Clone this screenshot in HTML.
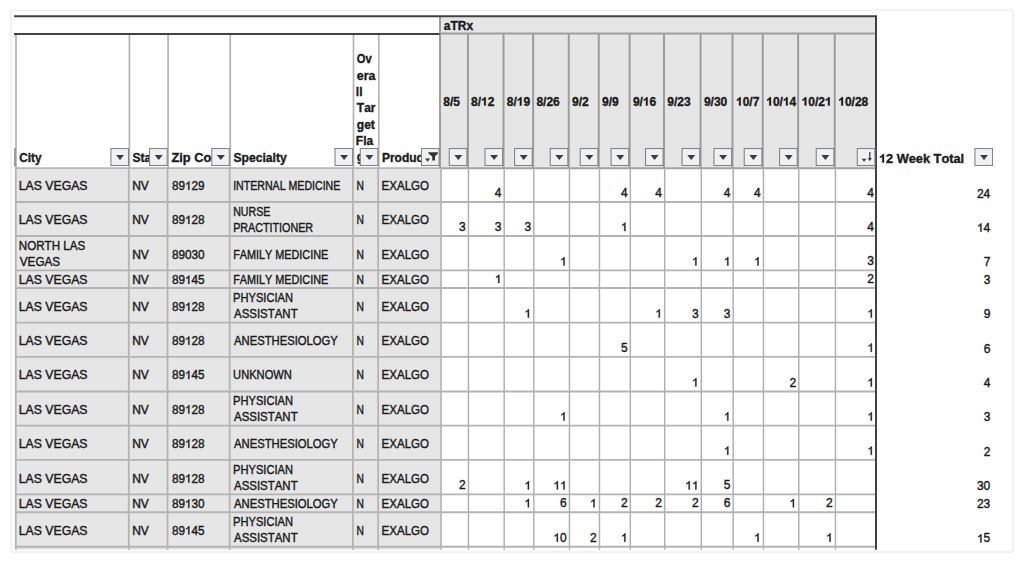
<!DOCTYPE html>
<html><head><meta charset="utf-8"><title>aTRx pivot</title>
<style>
html,body{margin:0;padding:0;background:#fff;width:1024px;height:563px;overflow:hidden}
svg{display:block}
svg text{font-family:"Liberation Sans",sans-serif;font-kerning:none}
</style></head>
<body>
<svg width="1024" height="563" viewBox="0 0 1024 563">
<rect x="0" y="0" width="1024" height="563" fill="#fff"/>
<rect x="11" y="10.3" width="1002" height="541.7" rx="2" fill="none" stroke="#f2f2f2" stroke-width="2"/>
<rect x="440" y="16.3" width="436" height="151.89999999999998" fill="#e6e6e6"/>
<rect x="16" y="168.2" width="424" height="381.59999999999997" fill="#e6e6e6"/>
<line x1="15.1" y1="202" x2="876" y2="202" stroke="#b4b4b4" stroke-width="1.85"/>
<line x1="15.1" y1="236" x2="876" y2="236" stroke="#b4b4b4" stroke-width="1.85"/>
<line x1="15.1" y1="270.4" x2="876" y2="270.4" stroke="#b4b4b4" stroke-width="1.85"/>
<line x1="15.1" y1="288" x2="876" y2="288" stroke="#b4b4b4" stroke-width="1.85"/>
<line x1="15.1" y1="322.6" x2="876" y2="322.6" stroke="#b4b4b4" stroke-width="1.85"/>
<line x1="15.1" y1="356.8" x2="876" y2="356.8" stroke="#b4b4b4" stroke-width="1.85"/>
<line x1="15.1" y1="391.5" x2="876" y2="391.5" stroke="#b4b4b4" stroke-width="1.85"/>
<line x1="15.1" y1="425.6" x2="876" y2="425.6" stroke="#b4b4b4" stroke-width="1.85"/>
<line x1="15.1" y1="459.8" x2="876" y2="459.8" stroke="#b4b4b4" stroke-width="1.85"/>
<line x1="15.1" y1="494.4" x2="876" y2="494.4" stroke="#b4b4b4" stroke-width="1.85"/>
<line x1="15.1" y1="512.2" x2="876" y2="512.2" stroke="#b4b4b4" stroke-width="1.85"/>
<line x1="15.1" y1="546.7" x2="876" y2="546.7" stroke="#b4b4b4" stroke-width="1.85"/>
<line x1="15.1" y1="168.2" x2="440" y2="168.2" stroke="#b6b6b6" stroke-width="1.8"/>
<line x1="440" y1="168.2" x2="876" y2="168.2" stroke="#a4a4a4" stroke-width="1.9"/>
<line x1="440" y1="33.5" x2="876" y2="33.5" stroke="#9d9d9d" stroke-width="2.0"/>
<line x1="16" y1="34.0" x2="16" y2="168.2" stroke="#b4b4b4" stroke-width="1.7"/>
<line x1="129.4" y1="34.0" x2="129.4" y2="168.2" stroke="#b4b4b4" stroke-width="1.7"/>
<line x1="168.1" y1="34.0" x2="168.1" y2="168.2" stroke="#b4b4b4" stroke-width="1.7"/>
<line x1="230.25" y1="34.0" x2="230.25" y2="168.2" stroke="#b4b4b4" stroke-width="1.7"/>
<line x1="353.5" y1="34.0" x2="353.5" y2="168.2" stroke="#b4b4b4" stroke-width="1.7"/>
<line x1="378.75" y1="34.0" x2="378.75" y2="168.2" stroke="#b4b4b4" stroke-width="1.7"/>
<line x1="440" y1="16.3" x2="440" y2="168.2" stroke="#9d9d9d" stroke-width="2.0"/>
<line x1="467.95" y1="34.0" x2="467.95" y2="168.2" stroke="#9d9d9d" stroke-width="2.0"/>
<line x1="503.5" y1="34.0" x2="503.5" y2="168.2" stroke="#9d9d9d" stroke-width="2.0"/>
<line x1="533.1" y1="34.0" x2="533.1" y2="168.2" stroke="#9d9d9d" stroke-width="2.0"/>
<line x1="568.75" y1="34.0" x2="568.75" y2="168.2" stroke="#9d9d9d" stroke-width="2.0"/>
<line x1="598.75" y1="34.0" x2="598.75" y2="168.2" stroke="#9d9d9d" stroke-width="2.0"/>
<line x1="629.6" y1="34.0" x2="629.6" y2="168.2" stroke="#9d9d9d" stroke-width="2.0"/>
<line x1="664" y1="34.0" x2="664" y2="168.2" stroke="#9d9d9d" stroke-width="2.0"/>
<line x1="700.6" y1="34.0" x2="700.6" y2="168.2" stroke="#9d9d9d" stroke-width="2.0"/>
<line x1="732.5" y1="34.0" x2="732.5" y2="168.2" stroke="#9d9d9d" stroke-width="2.0"/>
<line x1="762.75" y1="34.0" x2="762.75" y2="168.2" stroke="#9d9d9d" stroke-width="2.0"/>
<line x1="798.1" y1="34.0" x2="798.1" y2="168.2" stroke="#9d9d9d" stroke-width="2.0"/>
<line x1="834.75" y1="34.0" x2="834.75" y2="168.2" stroke="#9d9d9d" stroke-width="2.0"/>
<line x1="15.8" y1="168.2" x2="15.8" y2="549.8" stroke="#b4b4b4" stroke-width="1.8"/>
<line x1="128.8" y1="168.2" x2="128.8" y2="549.8" stroke="#b4b4b4" stroke-width="1.8"/>
<line x1="167.5" y1="168.2" x2="167.5" y2="549.8" stroke="#b4b4b4" stroke-width="1.8"/>
<line x1="229.65" y1="168.2" x2="229.65" y2="549.8" stroke="#b4b4b4" stroke-width="1.8"/>
<line x1="352.9" y1="168.2" x2="352.9" y2="549.8" stroke="#b4b4b4" stroke-width="1.8"/>
<line x1="378.15" y1="168.2" x2="378.15" y2="549.8" stroke="#b4b4b4" stroke-width="1.8"/>
<line x1="441.0" y1="168.2" x2="441.0" y2="549.8" stroke="#b4b4b4" stroke-width="1.7"/>
<line x1="468.45" y1="168.2" x2="468.45" y2="549.8" stroke="#b0b0b0" stroke-width="1.45"/>
<line x1="504.2" y1="168.2" x2="504.2" y2="549.8" stroke="#b0b0b0" stroke-width="1.45"/>
<line x1="533.8000000000001" y1="168.2" x2="533.8000000000001" y2="549.8" stroke="#b0b0b0" stroke-width="1.45"/>
<line x1="569.45" y1="168.2" x2="569.45" y2="549.8" stroke="#b0b0b0" stroke-width="1.45"/>
<line x1="599.45" y1="168.2" x2="599.45" y2="549.8" stroke="#b0b0b0" stroke-width="1.45"/>
<line x1="630.3000000000001" y1="168.2" x2="630.3000000000001" y2="549.8" stroke="#b0b0b0" stroke-width="1.45"/>
<line x1="664.7" y1="168.2" x2="664.7" y2="549.8" stroke="#b0b0b0" stroke-width="1.45"/>
<line x1="701.3000000000001" y1="168.2" x2="701.3000000000001" y2="549.8" stroke="#b0b0b0" stroke-width="1.45"/>
<line x1="733.2" y1="168.2" x2="733.2" y2="549.8" stroke="#b0b0b0" stroke-width="1.45"/>
<line x1="763.45" y1="168.2" x2="763.45" y2="549.8" stroke="#b0b0b0" stroke-width="1.45"/>
<line x1="798.8000000000001" y1="168.2" x2="798.8000000000001" y2="549.8" stroke="#b0b0b0" stroke-width="1.45"/>
<line x1="835.45" y1="168.2" x2="835.45" y2="549.8" stroke="#b0b0b0" stroke-width="1.45"/>
<line x1="14.9" y1="148" x2="14.9" y2="166.5" stroke="#6a6a6a" stroke-width="1.1"/>
<line x1="14" y1="16.3" x2="877" y2="16.3" stroke="#424242" stroke-width="2"/>
<line x1="14" y1="34.0" x2="439.5" y2="34.0" stroke="#424242" stroke-width="2.2"/>
<line x1="876" y1="16.3" x2="876" y2="549.8" stroke="#424242" stroke-width="2"/>
<text x="19.30" y="161.80" font-weight="bold" font-size="12" fill="#1b1b1b" stroke="#1b1b1b" stroke-width="0.35" textLength="22.30" lengthAdjust="spacingAndGlyphs">City</text>
<text x="132.60" y="161.80" font-weight="bold" font-size="12" fill="#1b1b1b" stroke="#1b1b1b" stroke-width="0.35">State</text>
<text x="171.40" y="161.80" font-weight="bold" font-size="12" fill="#1b1b1b" stroke="#1b1b1b" stroke-width="0.35" textLength="54.77" lengthAdjust="spacingAndGlyphs">Zip Code</text>
<text x="233.44" y="161.80" font-weight="bold" font-size="12" fill="#1b1b1b" stroke="#1b1b1b" stroke-width="0.35" textLength="53.33" lengthAdjust="spacingAndGlyphs">Specialty</text>
<text x="381.95" y="161.80" font-weight="bold" font-size="12" fill="#1b1b1b" stroke="#1b1b1b" stroke-width="0.35">Product</text>
<text x="356.80" y="63.20" font-weight="bold" font-size="12" fill="#1b1b1b" stroke="#1b1b1b" stroke-width="0.35" textLength="14.93" lengthAdjust="spacingAndGlyphs">Ov</text>
<text x="356.80" y="79.55" font-weight="bold" font-size="12" fill="#1b1b1b" stroke="#1b1b1b" stroke-width="0.35" textLength="18.65" lengthAdjust="spacingAndGlyphs">era</text>
<text x="355.80" y="95.90" font-weight="bold" font-size="12" fill="#1b1b1b" stroke="#1b1b1b" stroke-width="0.35">ll</text>
<text x="356.80" y="112.25" font-weight="bold" font-size="12" fill="#1b1b1b" stroke="#1b1b1b" stroke-width="0.35">Tar</text>
<text x="356.80" y="128.60" font-weight="bold" font-size="12" fill="#1b1b1b" stroke="#1b1b1b" stroke-width="0.35">get</text>
<text x="355.80" y="144.95" font-weight="bold" font-size="12" fill="#1b1b1b" stroke="#1b1b1b" stroke-width="0.35">Fla</text>
<text x="356.80" y="161.30" font-weight="bold" font-size="12" fill="#1b1b1b" stroke="#1b1b1b" stroke-width="0.35">g</text>
<text x="443.80" y="29.50" font-weight="bold" font-size="12" fill="#1b1b1b" stroke="#1b1b1b" stroke-width="0.35">aTRx</text>
<text x="443.30" y="105.50" font-weight="bold" font-size="12" fill="#1b1b1b" stroke="#1b1b1b" stroke-width="0.35">8/5</text>
<text x="471.05" y="105.50" font-weight="bold" font-size="12" fill="#1b1b1b" stroke="#1b1b1b" stroke-width="0.35">8/ 2</text>
<path d="M804 0H523V1014Q369 876 160 810V1054Q270 1088 399 1185Q528 1282 576 1409H804Z" transform="translate(481.06,105.50) scale(0.005859,-0.005859)" fill="#1b1b1b" stroke="#1b1b1b" stroke-width="0.35" vector-effect="non-scaling-stroke"/>
<text x="506.80" y="105.50" font-weight="bold" font-size="12" fill="#1b1b1b" stroke="#1b1b1b" stroke-width="0.35">8/ 9</text>
<path d="M804 0H523V1014Q369 876 160 810V1054Q270 1088 399 1185Q528 1282 576 1409H804Z" transform="translate(516.81,105.50) scale(0.005859,-0.005859)" fill="#1b1b1b" stroke="#1b1b1b" stroke-width="0.35" vector-effect="non-scaling-stroke"/>
<text x="536.40" y="105.50" font-weight="bold" font-size="12" fill="#1b1b1b" stroke="#1b1b1b" stroke-width="0.35">8/26</text>
<text x="572.05" y="105.50" font-weight="bold" font-size="12" fill="#1b1b1b" stroke="#1b1b1b" stroke-width="0.35">9/2</text>
<text x="602.05" y="105.50" font-weight="bold" font-size="12" fill="#1b1b1b" stroke="#1b1b1b" stroke-width="0.35">9/9</text>
<text x="632.90" y="105.50" font-weight="bold" font-size="12" fill="#1b1b1b" stroke="#1b1b1b" stroke-width="0.35">9/ 6</text>
<path d="M804 0H523V1014Q369 876 160 810V1054Q270 1088 399 1185Q528 1282 576 1409H804Z" transform="translate(642.91,105.50) scale(0.005859,-0.005859)" fill="#1b1b1b" stroke="#1b1b1b" stroke-width="0.35" vector-effect="non-scaling-stroke"/>
<text x="667.30" y="105.50" font-weight="bold" font-size="12" fill="#1b1b1b" stroke="#1b1b1b" stroke-width="0.35">9/23</text>
<text x="703.90" y="105.50" font-weight="bold" font-size="12" fill="#1b1b1b" stroke="#1b1b1b" stroke-width="0.35">9/30</text>
<text x="736.00" y="105.50" font-weight="bold" font-size="12" fill="#1b1b1b" stroke="#1b1b1b" stroke-width="0.35"> 0/7</text>
<path d="M804 0H523V1014Q369 876 160 810V1054Q270 1088 399 1185Q528 1282 576 1409H804Z" transform="translate(736.00,105.50) scale(0.005859,-0.005859)" fill="#1b1b1b" stroke="#1b1b1b" stroke-width="0.35" vector-effect="non-scaling-stroke"/>
<text x="766.25" y="105.50" font-weight="bold" font-size="12" fill="#1b1b1b" stroke="#1b1b1b" stroke-width="0.35"> 0/ 4</text>
<path d="M804 0H523V1014Q369 876 160 810V1054Q270 1088 399 1185Q528 1282 576 1409H804Z" transform="translate(766.25,105.50) scale(0.005859,-0.005859)" fill="#1b1b1b" stroke="#1b1b1b" stroke-width="0.35" vector-effect="non-scaling-stroke"/>
<path d="M804 0H523V1014Q369 876 160 810V1054Q270 1088 399 1185Q528 1282 576 1409H804Z" transform="translate(782.93,105.50) scale(0.005859,-0.005859)" fill="#1b1b1b" stroke="#1b1b1b" stroke-width="0.35" vector-effect="non-scaling-stroke"/>
<text x="801.60" y="105.50" font-weight="bold" font-size="12" fill="#1b1b1b" stroke="#1b1b1b" stroke-width="0.35"> 0/2 </text>
<path d="M804 0H523V1014Q369 876 160 810V1054Q270 1088 399 1185Q528 1282 576 1409H804Z" transform="translate(801.60,105.50) scale(0.005859,-0.005859)" fill="#1b1b1b" stroke="#1b1b1b" stroke-width="0.35" vector-effect="non-scaling-stroke"/>
<path d="M804 0H523V1014Q369 876 160 810V1054Q270 1088 399 1185Q528 1282 576 1409H804Z" transform="translate(824.96,105.50) scale(0.005859,-0.005859)" fill="#1b1b1b" stroke="#1b1b1b" stroke-width="0.35" vector-effect="non-scaling-stroke"/>
<text x="838.25" y="105.50" font-weight="bold" font-size="12" fill="#1b1b1b" stroke="#1b1b1b" stroke-width="0.35"> 0/28</text>
<path d="M804 0H523V1014Q369 876 160 810V1054Q270 1088 399 1185Q528 1282 576 1409H804Z" transform="translate(838.25,105.50) scale(0.005859,-0.005859)" fill="#1b1b1b" stroke="#1b1b1b" stroke-width="0.35" vector-effect="non-scaling-stroke"/>
<text x="878.92" y="162.60" font-weight="bold" font-size="12" fill="#1b1b1b" stroke="#1b1b1b" stroke-width="0.35" textLength="85.19" lengthAdjust="spacingAndGlyphs"> 2 Week Total</text>
<path d="M804 0H523V1014Q369 876 160 810V1054Q270 1088 399 1185Q528 1282 576 1409H804Z" transform="translate(878.92,162.60) scale(0.006325,-0.005859)" fill="#1b1b1b" stroke="#1b1b1b" stroke-width="0.35" vector-effect="non-scaling-stroke"/>
<text x="18.78" y="189.80" font-size="12" fill="#1b1b1b" stroke="#1b1b1b" stroke-width="0.4" textLength="68.78" lengthAdjust="spacingAndGlyphs">LAS VEGAS</text>
<text x="132.20" y="189.80" font-size="12" fill="#1b1b1b" stroke="#1b1b1b" stroke-width="0.4" textLength="16.65" lengthAdjust="spacingAndGlyphs">NV</text>
<text x="171.90" y="189.80" font-size="12" fill="#1b1b1b" stroke="#1b1b1b" stroke-width="0.4" textLength="32.65" lengthAdjust="spacingAndGlyphs">89 29</text>
<path d="M763 0H583V1098Q518 1038 412 979Q306 920 222 890V1057Q373 1125 486 1221Q599 1318 646 1409H763Z" transform="translate(184.96,189.80) scale(0.005732,-0.005859)" fill="#1b1b1b" stroke="#1b1b1b" stroke-width="0.4" vector-effect="non-scaling-stroke"/>
<text x="233.16" y="189.80" font-size="12" fill="#1b1b1b" stroke="#1b1b1b" stroke-width="0.4" textLength="107.18" lengthAdjust="spacingAndGlyphs">INTERNAL MEDICINE</text>
<text x="356.45" y="189.80" font-size="12" fill="#1b1b1b" stroke="#1b1b1b" stroke-width="0.4" textLength="7.41" lengthAdjust="spacingAndGlyphs">N</text>
<text x="381.59" y="189.80" font-size="12" fill="#1b1b1b" stroke="#1b1b1b" stroke-width="0.4" textLength="47.38" lengthAdjust="spacingAndGlyphs">EXALGO</text>
<text x="494.83" y="197.00" font-size="12" fill="#1b1b1b" stroke="#1b1b1b" stroke-width="0.4">4</text>
<text x="620.93" y="197.00" font-size="12" fill="#1b1b1b" stroke="#1b1b1b" stroke-width="0.4">4</text>
<text x="655.33" y="197.00" font-size="12" fill="#1b1b1b" stroke="#1b1b1b" stroke-width="0.4">4</text>
<text x="723.83" y="197.00" font-size="12" fill="#1b1b1b" stroke="#1b1b1b" stroke-width="0.4">4</text>
<text x="754.08" y="197.00" font-size="12" fill="#1b1b1b" stroke="#1b1b1b" stroke-width="0.4">4</text>
<text x="867.33" y="197.00" font-size="12" fill="#1b1b1b" stroke="#1b1b1b" stroke-width="0.4">4</text>
<text x="976.95" y="197.70" font-size="12" fill="#1b1b1b" stroke="#1b1b1b" stroke-width="0.4">24</text>
<text x="18.78" y="224.00" font-size="12" fill="#1b1b1b" stroke="#1b1b1b" stroke-width="0.4" textLength="68.78" lengthAdjust="spacingAndGlyphs">LAS VEGAS</text>
<text x="132.20" y="224.00" font-size="12" fill="#1b1b1b" stroke="#1b1b1b" stroke-width="0.4" textLength="16.65" lengthAdjust="spacingAndGlyphs">NV</text>
<text x="171.90" y="224.00" font-size="12" fill="#1b1b1b" stroke="#1b1b1b" stroke-width="0.4" textLength="32.65" lengthAdjust="spacingAndGlyphs">89 28</text>
<path d="M763 0H583V1098Q518 1038 412 979Q306 920 222 890V1057Q373 1125 486 1221Q599 1318 646 1409H763Z" transform="translate(184.96,224.00) scale(0.005732,-0.005859)" fill="#1b1b1b" stroke="#1b1b1b" stroke-width="0.4" vector-effect="non-scaling-stroke"/>
<text x="233.17" y="215.50" font-size="12" fill="#1b1b1b" stroke="#1b1b1b" stroke-width="0.4" textLength="37.18" lengthAdjust="spacingAndGlyphs">NURSE</text>
<text x="233.15" y="231.80" font-size="12" fill="#1b1b1b" stroke="#1b1b1b" stroke-width="0.4" textLength="79.98" lengthAdjust="spacingAndGlyphs">PRACTITIONER</text>
<text x="356.45" y="224.00" font-size="12" fill="#1b1b1b" stroke="#1b1b1b" stroke-width="0.4" textLength="7.41" lengthAdjust="spacingAndGlyphs">N</text>
<text x="381.59" y="224.00" font-size="12" fill="#1b1b1b" stroke="#1b1b1b" stroke-width="0.4" textLength="47.38" lengthAdjust="spacingAndGlyphs">EXALGO</text>
<text x="459.08" y="231.00" font-size="12" fill="#1b1b1b" stroke="#1b1b1b" stroke-width="0.4">3</text>
<text x="494.83" y="231.00" font-size="12" fill="#1b1b1b" stroke="#1b1b1b" stroke-width="0.4">3</text>
<text x="524.43" y="231.00" font-size="12" fill="#1b1b1b" stroke="#1b1b1b" stroke-width="0.4">3</text>
<path d="M763 0H583V1098Q518 1038 412 979Q306 920 222 890V1057Q373 1125 486 1221Q599 1318 646 1409H763Z" transform="translate(620.93,231.00) scale(0.005859,-0.005859)" fill="#1b1b1b" stroke="#1b1b1b" stroke-width="0.4" vector-effect="non-scaling-stroke"/>
<text x="867.33" y="231.00" font-size="12" fill="#1b1b1b" stroke="#1b1b1b" stroke-width="0.4">4</text>
<text x="976.95" y="231.70" font-size="12" fill="#1b1b1b" stroke="#1b1b1b" stroke-width="0.4"> 4</text>
<path d="M763 0H583V1098Q518 1038 412 979Q306 920 222 890V1057Q373 1125 486 1221Q599 1318 646 1409H763Z" transform="translate(976.95,231.70) scale(0.005859,-0.005859)" fill="#1b1b1b" stroke="#1b1b1b" stroke-width="0.4" vector-effect="non-scaling-stroke"/>
<text x="18.83" y="249.70" font-size="12" fill="#1b1b1b" stroke="#1b1b1b" stroke-width="0.4" textLength="66.40" lengthAdjust="spacingAndGlyphs">NORTH LAS</text>
<text x="19.80" y="266.00" font-size="12" fill="#1b1b1b" stroke="#1b1b1b" stroke-width="0.4" textLength="40.33" lengthAdjust="spacingAndGlyphs">VEGAS</text>
<text x="132.20" y="258.70" font-size="12" fill="#1b1b1b" stroke="#1b1b1b" stroke-width="0.4" textLength="16.65" lengthAdjust="spacingAndGlyphs">NV</text>
<text x="171.90" y="258.70" font-size="12" fill="#1b1b1b" stroke="#1b1b1b" stroke-width="0.4" textLength="32.65" lengthAdjust="spacingAndGlyphs">89030</text>
<text x="233.13" y="258.70" font-size="12" fill="#1b1b1b" stroke="#1b1b1b" stroke-width="0.4" textLength="95.13" lengthAdjust="spacingAndGlyphs">FAMILY MEDICINE</text>
<text x="356.45" y="258.70" font-size="12" fill="#1b1b1b" stroke="#1b1b1b" stroke-width="0.4" textLength="7.41" lengthAdjust="spacingAndGlyphs">N</text>
<text x="381.59" y="258.70" font-size="12" fill="#1b1b1b" stroke="#1b1b1b" stroke-width="0.4" textLength="47.38" lengthAdjust="spacingAndGlyphs">EXALGO</text>
<path d="M763 0H583V1098Q518 1038 412 979Q306 920 222 890V1057Q373 1125 486 1221Q599 1318 646 1409H763Z" transform="translate(560.08,265.40) scale(0.005859,-0.005859)" fill="#1b1b1b" stroke="#1b1b1b" stroke-width="0.4" vector-effect="non-scaling-stroke"/>
<path d="M763 0H583V1098Q518 1038 412 979Q306 920 222 890V1057Q373 1125 486 1221Q599 1318 646 1409H763Z" transform="translate(691.93,265.40) scale(0.005859,-0.005859)" fill="#1b1b1b" stroke="#1b1b1b" stroke-width="0.4" vector-effect="non-scaling-stroke"/>
<path d="M763 0H583V1098Q518 1038 412 979Q306 920 222 890V1057Q373 1125 486 1221Q599 1318 646 1409H763Z" transform="translate(723.83,265.40) scale(0.005859,-0.005859)" fill="#1b1b1b" stroke="#1b1b1b" stroke-width="0.4" vector-effect="non-scaling-stroke"/>
<path d="M763 0H583V1098Q518 1038 412 979Q306 920 222 890V1057Q373 1125 486 1221Q599 1318 646 1409H763Z" transform="translate(754.08,265.40) scale(0.005859,-0.005859)" fill="#1b1b1b" stroke="#1b1b1b" stroke-width="0.4" vector-effect="non-scaling-stroke"/>
<text x="867.33" y="265.40" font-size="12" fill="#1b1b1b" stroke="#1b1b1b" stroke-width="0.4">3</text>
<text x="983.63" y="266.10" font-size="12" fill="#1b1b1b" stroke="#1b1b1b" stroke-width="0.4">7</text>
<text x="18.78" y="283.90" font-size="12" fill="#1b1b1b" stroke="#1b1b1b" stroke-width="0.4" textLength="68.78" lengthAdjust="spacingAndGlyphs">LAS VEGAS</text>
<text x="132.20" y="283.90" font-size="12" fill="#1b1b1b" stroke="#1b1b1b" stroke-width="0.4" textLength="16.65" lengthAdjust="spacingAndGlyphs">NV</text>
<text x="171.90" y="283.90" font-size="12" fill="#1b1b1b" stroke="#1b1b1b" stroke-width="0.4" textLength="32.65" lengthAdjust="spacingAndGlyphs">89 45</text>
<path d="M763 0H583V1098Q518 1038 412 979Q306 920 222 890V1057Q373 1125 486 1221Q599 1318 646 1409H763Z" transform="translate(184.96,283.90) scale(0.005732,-0.005859)" fill="#1b1b1b" stroke="#1b1b1b" stroke-width="0.4" vector-effect="non-scaling-stroke"/>
<text x="233.13" y="283.90" font-size="12" fill="#1b1b1b" stroke="#1b1b1b" stroke-width="0.4" textLength="95.13" lengthAdjust="spacingAndGlyphs">FAMILY MEDICINE</text>
<text x="356.45" y="283.90" font-size="12" fill="#1b1b1b" stroke="#1b1b1b" stroke-width="0.4" textLength="7.41" lengthAdjust="spacingAndGlyphs">N</text>
<text x="381.59" y="283.90" font-size="12" fill="#1b1b1b" stroke="#1b1b1b" stroke-width="0.4" textLength="47.38" lengthAdjust="spacingAndGlyphs">EXALGO</text>
<path d="M763 0H583V1098Q518 1038 412 979Q306 920 222 890V1057Q373 1125 486 1221Q599 1318 646 1409H763Z" transform="translate(494.83,283.00) scale(0.005859,-0.005859)" fill="#1b1b1b" stroke="#1b1b1b" stroke-width="0.4" vector-effect="non-scaling-stroke"/>
<text x="867.33" y="283.00" font-size="12" fill="#1b1b1b" stroke="#1b1b1b" stroke-width="0.4">2</text>
<text x="983.63" y="283.70" font-size="12" fill="#1b1b1b" stroke="#1b1b1b" stroke-width="0.4">3</text>
<text x="18.78" y="310.90" font-size="12" fill="#1b1b1b" stroke="#1b1b1b" stroke-width="0.4" textLength="68.78" lengthAdjust="spacingAndGlyphs">LAS VEGAS</text>
<text x="132.20" y="310.90" font-size="12" fill="#1b1b1b" stroke="#1b1b1b" stroke-width="0.4" textLength="16.65" lengthAdjust="spacingAndGlyphs">NV</text>
<text x="171.90" y="310.90" font-size="12" fill="#1b1b1b" stroke="#1b1b1b" stroke-width="0.4" textLength="32.65" lengthAdjust="spacingAndGlyphs">89 28</text>
<path d="M763 0H583V1098Q518 1038 412 979Q306 920 222 890V1057Q373 1125 486 1221Q599 1318 646 1409H763Z" transform="translate(184.96,310.90) scale(0.005732,-0.005859)" fill="#1b1b1b" stroke="#1b1b1b" stroke-width="0.4" vector-effect="non-scaling-stroke"/>
<text x="233.12" y="301.80" font-size="12" fill="#1b1b1b" stroke="#1b1b1b" stroke-width="0.4" textLength="59.84" lengthAdjust="spacingAndGlyphs">PHYSICIAN</text>
<text x="234.05" y="318.10" font-size="12" fill="#1b1b1b" stroke="#1b1b1b" stroke-width="0.4" textLength="63.58" lengthAdjust="spacingAndGlyphs">ASSISTANT</text>
<text x="356.45" y="310.90" font-size="12" fill="#1b1b1b" stroke="#1b1b1b" stroke-width="0.4" textLength="7.41" lengthAdjust="spacingAndGlyphs">N</text>
<text x="381.59" y="310.90" font-size="12" fill="#1b1b1b" stroke="#1b1b1b" stroke-width="0.4" textLength="47.38" lengthAdjust="spacingAndGlyphs">EXALGO</text>
<path d="M763 0H583V1098Q518 1038 412 979Q306 920 222 890V1057Q373 1125 486 1221Q599 1318 646 1409H763Z" transform="translate(524.43,317.60) scale(0.005859,-0.005859)" fill="#1b1b1b" stroke="#1b1b1b" stroke-width="0.4" vector-effect="non-scaling-stroke"/>
<path d="M763 0H583V1098Q518 1038 412 979Q306 920 222 890V1057Q373 1125 486 1221Q599 1318 646 1409H763Z" transform="translate(655.33,317.60) scale(0.005859,-0.005859)" fill="#1b1b1b" stroke="#1b1b1b" stroke-width="0.4" vector-effect="non-scaling-stroke"/>
<text x="691.93" y="317.60" font-size="12" fill="#1b1b1b" stroke="#1b1b1b" stroke-width="0.4">3</text>
<text x="723.83" y="317.60" font-size="12" fill="#1b1b1b" stroke="#1b1b1b" stroke-width="0.4">3</text>
<path d="M763 0H583V1098Q518 1038 412 979Q306 920 222 890V1057Q373 1125 486 1221Q599 1318 646 1409H763Z" transform="translate(867.33,317.60) scale(0.005859,-0.005859)" fill="#1b1b1b" stroke="#1b1b1b" stroke-width="0.4" vector-effect="non-scaling-stroke"/>
<text x="983.63" y="318.30" font-size="12" fill="#1b1b1b" stroke="#1b1b1b" stroke-width="0.4">9</text>
<text x="18.78" y="344.80" font-size="12" fill="#1b1b1b" stroke="#1b1b1b" stroke-width="0.4" textLength="68.78" lengthAdjust="spacingAndGlyphs">LAS VEGAS</text>
<text x="132.20" y="344.80" font-size="12" fill="#1b1b1b" stroke="#1b1b1b" stroke-width="0.4" textLength="16.65" lengthAdjust="spacingAndGlyphs">NV</text>
<text x="171.90" y="344.80" font-size="12" fill="#1b1b1b" stroke="#1b1b1b" stroke-width="0.4" textLength="32.65" lengthAdjust="spacingAndGlyphs">89 28</text>
<path d="M763 0H583V1098Q518 1038 412 979Q306 920 222 890V1057Q373 1125 486 1221Q599 1318 646 1409H763Z" transform="translate(184.96,344.80) scale(0.005732,-0.005859)" fill="#1b1b1b" stroke="#1b1b1b" stroke-width="0.4" vector-effect="non-scaling-stroke"/>
<text x="234.05" y="344.80" font-size="12" fill="#1b1b1b" stroke="#1b1b1b" stroke-width="0.4" textLength="103.74" lengthAdjust="spacingAndGlyphs">ANESTHESIOLOGY</text>
<text x="356.45" y="344.80" font-size="12" fill="#1b1b1b" stroke="#1b1b1b" stroke-width="0.4" textLength="7.41" lengthAdjust="spacingAndGlyphs">N</text>
<text x="381.59" y="344.80" font-size="12" fill="#1b1b1b" stroke="#1b1b1b" stroke-width="0.4" textLength="47.38" lengthAdjust="spacingAndGlyphs">EXALGO</text>
<text x="620.93" y="351.80" font-size="12" fill="#1b1b1b" stroke="#1b1b1b" stroke-width="0.4">5</text>
<path d="M763 0H583V1098Q518 1038 412 979Q306 920 222 890V1057Q373 1125 486 1221Q599 1318 646 1409H763Z" transform="translate(867.33,351.80) scale(0.005859,-0.005859)" fill="#1b1b1b" stroke="#1b1b1b" stroke-width="0.4" vector-effect="non-scaling-stroke"/>
<text x="983.63" y="352.50" font-size="12" fill="#1b1b1b" stroke="#1b1b1b" stroke-width="0.4">6</text>
<text x="18.78" y="379.05" font-size="12" fill="#1b1b1b" stroke="#1b1b1b" stroke-width="0.4" textLength="68.78" lengthAdjust="spacingAndGlyphs">LAS VEGAS</text>
<text x="132.20" y="379.05" font-size="12" fill="#1b1b1b" stroke="#1b1b1b" stroke-width="0.4" textLength="16.65" lengthAdjust="spacingAndGlyphs">NV</text>
<text x="171.90" y="379.05" font-size="12" fill="#1b1b1b" stroke="#1b1b1b" stroke-width="0.4" textLength="32.65" lengthAdjust="spacingAndGlyphs">89 45</text>
<path d="M763 0H583V1098Q518 1038 412 979Q306 920 222 890V1057Q373 1125 486 1221Q599 1318 646 1409H763Z" transform="translate(184.96,379.05) scale(0.005732,-0.005859)" fill="#1b1b1b" stroke="#1b1b1b" stroke-width="0.4" vector-effect="non-scaling-stroke"/>
<text x="233.12" y="379.05" font-size="12" fill="#1b1b1b" stroke="#1b1b1b" stroke-width="0.4" textLength="58.71" lengthAdjust="spacingAndGlyphs">UNKNOWN</text>
<text x="356.45" y="379.05" font-size="12" fill="#1b1b1b" stroke="#1b1b1b" stroke-width="0.4" textLength="7.41" lengthAdjust="spacingAndGlyphs">N</text>
<text x="381.59" y="379.05" font-size="12" fill="#1b1b1b" stroke="#1b1b1b" stroke-width="0.4" textLength="47.38" lengthAdjust="spacingAndGlyphs">EXALGO</text>
<path d="M763 0H583V1098Q518 1038 412 979Q306 920 222 890V1057Q373 1125 486 1221Q599 1318 646 1409H763Z" transform="translate(691.93,386.50) scale(0.005859,-0.005859)" fill="#1b1b1b" stroke="#1b1b1b" stroke-width="0.4" vector-effect="non-scaling-stroke"/>
<text x="789.43" y="386.50" font-size="12" fill="#1b1b1b" stroke="#1b1b1b" stroke-width="0.4">2</text>
<path d="M763 0H583V1098Q518 1038 412 979Q306 920 222 890V1057Q373 1125 486 1221Q599 1318 646 1409H763Z" transform="translate(867.33,386.50) scale(0.005859,-0.005859)" fill="#1b1b1b" stroke="#1b1b1b" stroke-width="0.4" vector-effect="non-scaling-stroke"/>
<text x="983.63" y="387.20" font-size="12" fill="#1b1b1b" stroke="#1b1b1b" stroke-width="0.4">4</text>
<text x="18.78" y="413.55" font-size="12" fill="#1b1b1b" stroke="#1b1b1b" stroke-width="0.4" textLength="68.78" lengthAdjust="spacingAndGlyphs">LAS VEGAS</text>
<text x="132.20" y="413.55" font-size="12" fill="#1b1b1b" stroke="#1b1b1b" stroke-width="0.4" textLength="16.65" lengthAdjust="spacingAndGlyphs">NV</text>
<text x="171.90" y="413.55" font-size="12" fill="#1b1b1b" stroke="#1b1b1b" stroke-width="0.4" textLength="32.65" lengthAdjust="spacingAndGlyphs">89 28</text>
<path d="M763 0H583V1098Q518 1038 412 979Q306 920 222 890V1057Q373 1125 486 1221Q599 1318 646 1409H763Z" transform="translate(184.96,413.55) scale(0.005732,-0.005859)" fill="#1b1b1b" stroke="#1b1b1b" stroke-width="0.4" vector-effect="non-scaling-stroke"/>
<text x="233.12" y="405.05" font-size="12" fill="#1b1b1b" stroke="#1b1b1b" stroke-width="0.4" textLength="59.84" lengthAdjust="spacingAndGlyphs">PHYSICIAN</text>
<text x="234.05" y="421.35" font-size="12" fill="#1b1b1b" stroke="#1b1b1b" stroke-width="0.4" textLength="63.58" lengthAdjust="spacingAndGlyphs">ASSISTANT</text>
<text x="356.45" y="413.55" font-size="12" fill="#1b1b1b" stroke="#1b1b1b" stroke-width="0.4" textLength="7.41" lengthAdjust="spacingAndGlyphs">N</text>
<text x="381.59" y="413.55" font-size="12" fill="#1b1b1b" stroke="#1b1b1b" stroke-width="0.4" textLength="47.38" lengthAdjust="spacingAndGlyphs">EXALGO</text>
<path d="M763 0H583V1098Q518 1038 412 979Q306 920 222 890V1057Q373 1125 486 1221Q599 1318 646 1409H763Z" transform="translate(560.08,420.60) scale(0.005859,-0.005859)" fill="#1b1b1b" stroke="#1b1b1b" stroke-width="0.4" vector-effect="non-scaling-stroke"/>
<path d="M763 0H583V1098Q518 1038 412 979Q306 920 222 890V1057Q373 1125 486 1221Q599 1318 646 1409H763Z" transform="translate(723.83,420.60) scale(0.005859,-0.005859)" fill="#1b1b1b" stroke="#1b1b1b" stroke-width="0.4" vector-effect="non-scaling-stroke"/>
<path d="M763 0H583V1098Q518 1038 412 979Q306 920 222 890V1057Q373 1125 486 1221Q599 1318 646 1409H763Z" transform="translate(867.33,420.60) scale(0.005859,-0.005859)" fill="#1b1b1b" stroke="#1b1b1b" stroke-width="0.4" vector-effect="non-scaling-stroke"/>
<text x="983.63" y="421.30" font-size="12" fill="#1b1b1b" stroke="#1b1b1b" stroke-width="0.4">3</text>
<text x="18.78" y="447.80" font-size="12" fill="#1b1b1b" stroke="#1b1b1b" stroke-width="0.4" textLength="68.78" lengthAdjust="spacingAndGlyphs">LAS VEGAS</text>
<text x="132.20" y="447.80" font-size="12" fill="#1b1b1b" stroke="#1b1b1b" stroke-width="0.4" textLength="16.65" lengthAdjust="spacingAndGlyphs">NV</text>
<text x="171.90" y="447.80" font-size="12" fill="#1b1b1b" stroke="#1b1b1b" stroke-width="0.4" textLength="32.65" lengthAdjust="spacingAndGlyphs">89 28</text>
<path d="M763 0H583V1098Q518 1038 412 979Q306 920 222 890V1057Q373 1125 486 1221Q599 1318 646 1409H763Z" transform="translate(184.96,447.80) scale(0.005732,-0.005859)" fill="#1b1b1b" stroke="#1b1b1b" stroke-width="0.4" vector-effect="non-scaling-stroke"/>
<text x="234.05" y="447.80" font-size="12" fill="#1b1b1b" stroke="#1b1b1b" stroke-width="0.4" textLength="103.74" lengthAdjust="spacingAndGlyphs">ANESTHESIOLOGY</text>
<text x="356.45" y="447.80" font-size="12" fill="#1b1b1b" stroke="#1b1b1b" stroke-width="0.4" textLength="7.41" lengthAdjust="spacingAndGlyphs">N</text>
<text x="381.59" y="447.80" font-size="12" fill="#1b1b1b" stroke="#1b1b1b" stroke-width="0.4" textLength="47.38" lengthAdjust="spacingAndGlyphs">EXALGO</text>
<path d="M763 0H583V1098Q518 1038 412 979Q306 920 222 890V1057Q373 1125 486 1221Q599 1318 646 1409H763Z" transform="translate(723.83,454.80) scale(0.005859,-0.005859)" fill="#1b1b1b" stroke="#1b1b1b" stroke-width="0.4" vector-effect="non-scaling-stroke"/>
<path d="M763 0H583V1098Q518 1038 412 979Q306 920 222 890V1057Q373 1125 486 1221Q599 1318 646 1409H763Z" transform="translate(867.33,454.80) scale(0.005859,-0.005859)" fill="#1b1b1b" stroke="#1b1b1b" stroke-width="0.4" vector-effect="non-scaling-stroke"/>
<text x="983.63" y="455.50" font-size="12" fill="#1b1b1b" stroke="#1b1b1b" stroke-width="0.4">2</text>
<text x="18.78" y="482.50" font-size="12" fill="#1b1b1b" stroke="#1b1b1b" stroke-width="0.4" textLength="68.78" lengthAdjust="spacingAndGlyphs">LAS VEGAS</text>
<text x="132.20" y="482.50" font-size="12" fill="#1b1b1b" stroke="#1b1b1b" stroke-width="0.4" textLength="16.65" lengthAdjust="spacingAndGlyphs">NV</text>
<text x="171.90" y="482.50" font-size="12" fill="#1b1b1b" stroke="#1b1b1b" stroke-width="0.4" textLength="32.65" lengthAdjust="spacingAndGlyphs">89 28</text>
<path d="M763 0H583V1098Q518 1038 412 979Q306 920 222 890V1057Q373 1125 486 1221Q599 1318 646 1409H763Z" transform="translate(184.96,482.50) scale(0.005732,-0.005859)" fill="#1b1b1b" stroke="#1b1b1b" stroke-width="0.4" vector-effect="non-scaling-stroke"/>
<text x="233.12" y="473.60" font-size="12" fill="#1b1b1b" stroke="#1b1b1b" stroke-width="0.4" textLength="59.84" lengthAdjust="spacingAndGlyphs">PHYSICIAN</text>
<text x="234.05" y="489.90" font-size="12" fill="#1b1b1b" stroke="#1b1b1b" stroke-width="0.4" textLength="63.58" lengthAdjust="spacingAndGlyphs">ASSISTANT</text>
<text x="356.45" y="482.50" font-size="12" fill="#1b1b1b" stroke="#1b1b1b" stroke-width="0.4" textLength="7.41" lengthAdjust="spacingAndGlyphs">N</text>
<text x="381.59" y="482.50" font-size="12" fill="#1b1b1b" stroke="#1b1b1b" stroke-width="0.4" textLength="47.38" lengthAdjust="spacingAndGlyphs">EXALGO</text>
<text x="459.08" y="489.40" font-size="12" fill="#1b1b1b" stroke="#1b1b1b" stroke-width="0.4">2</text>
<path d="M763 0H583V1098Q518 1038 412 979Q306 920 222 890V1057Q373 1125 486 1221Q599 1318 646 1409H763Z" transform="translate(524.43,489.40) scale(0.005859,-0.005859)" fill="#1b1b1b" stroke="#1b1b1b" stroke-width="0.4" vector-effect="non-scaling-stroke"/>
<path d="M763 0H583V1098Q518 1038 412 979Q306 920 222 890V1057Q373 1125 486 1221Q599 1318 646 1409H763Z" transform="translate(553.40,489.40) scale(0.005859,-0.005859)" fill="#1b1b1b" stroke="#1b1b1b" stroke-width="0.4" vector-effect="non-scaling-stroke"/>
<path d="M763 0H583V1098Q518 1038 412 979Q306 920 222 890V1057Q373 1125 486 1221Q599 1318 646 1409H763Z" transform="translate(560.08,489.40) scale(0.005859,-0.005859)" fill="#1b1b1b" stroke="#1b1b1b" stroke-width="0.4" vector-effect="non-scaling-stroke"/>
<path d="M763 0H583V1098Q518 1038 412 979Q306 920 222 890V1057Q373 1125 486 1221Q599 1318 646 1409H763Z" transform="translate(685.25,489.40) scale(0.005859,-0.005859)" fill="#1b1b1b" stroke="#1b1b1b" stroke-width="0.4" vector-effect="non-scaling-stroke"/>
<path d="M763 0H583V1098Q518 1038 412 979Q306 920 222 890V1057Q373 1125 486 1221Q599 1318 646 1409H763Z" transform="translate(691.93,489.40) scale(0.005859,-0.005859)" fill="#1b1b1b" stroke="#1b1b1b" stroke-width="0.4" vector-effect="non-scaling-stroke"/>
<text x="723.83" y="489.40" font-size="12" fill="#1b1b1b" stroke="#1b1b1b" stroke-width="0.4">5</text>
<text x="976.95" y="490.10" font-size="12" fill="#1b1b1b" stroke="#1b1b1b" stroke-width="0.4">30</text>
<text x="18.78" y="507.80" font-size="12" fill="#1b1b1b" stroke="#1b1b1b" stroke-width="0.4" textLength="68.78" lengthAdjust="spacingAndGlyphs">LAS VEGAS</text>
<text x="132.20" y="507.80" font-size="12" fill="#1b1b1b" stroke="#1b1b1b" stroke-width="0.4" textLength="16.65" lengthAdjust="spacingAndGlyphs">NV</text>
<text x="171.90" y="507.80" font-size="12" fill="#1b1b1b" stroke="#1b1b1b" stroke-width="0.4" textLength="32.65" lengthAdjust="spacingAndGlyphs">89 30</text>
<path d="M763 0H583V1098Q518 1038 412 979Q306 920 222 890V1057Q373 1125 486 1221Q599 1318 646 1409H763Z" transform="translate(184.96,507.80) scale(0.005732,-0.005859)" fill="#1b1b1b" stroke="#1b1b1b" stroke-width="0.4" vector-effect="non-scaling-stroke"/>
<text x="234.05" y="507.80" font-size="12" fill="#1b1b1b" stroke="#1b1b1b" stroke-width="0.4" textLength="103.74" lengthAdjust="spacingAndGlyphs">ANESTHESIOLOGY</text>
<text x="356.45" y="507.80" font-size="12" fill="#1b1b1b" stroke="#1b1b1b" stroke-width="0.4" textLength="7.41" lengthAdjust="spacingAndGlyphs">N</text>
<text x="381.59" y="507.80" font-size="12" fill="#1b1b1b" stroke="#1b1b1b" stroke-width="0.4" textLength="47.38" lengthAdjust="spacingAndGlyphs">EXALGO</text>
<path d="M763 0H583V1098Q518 1038 412 979Q306 920 222 890V1057Q373 1125 486 1221Q599 1318 646 1409H763Z" transform="translate(524.43,507.20) scale(0.005859,-0.005859)" fill="#1b1b1b" stroke="#1b1b1b" stroke-width="0.4" vector-effect="non-scaling-stroke"/>
<text x="560.08" y="507.20" font-size="12" fill="#1b1b1b" stroke="#1b1b1b" stroke-width="0.4">6</text>
<path d="M763 0H583V1098Q518 1038 412 979Q306 920 222 890V1057Q373 1125 486 1221Q599 1318 646 1409H763Z" transform="translate(590.08,507.20) scale(0.005859,-0.005859)" fill="#1b1b1b" stroke="#1b1b1b" stroke-width="0.4" vector-effect="non-scaling-stroke"/>
<text x="620.93" y="507.20" font-size="12" fill="#1b1b1b" stroke="#1b1b1b" stroke-width="0.4">2</text>
<text x="655.33" y="507.20" font-size="12" fill="#1b1b1b" stroke="#1b1b1b" stroke-width="0.4">2</text>
<text x="691.93" y="507.20" font-size="12" fill="#1b1b1b" stroke="#1b1b1b" stroke-width="0.4">2</text>
<text x="723.83" y="507.20" font-size="12" fill="#1b1b1b" stroke="#1b1b1b" stroke-width="0.4">6</text>
<path d="M763 0H583V1098Q518 1038 412 979Q306 920 222 890V1057Q373 1125 486 1221Q599 1318 646 1409H763Z" transform="translate(789.43,507.20) scale(0.005859,-0.005859)" fill="#1b1b1b" stroke="#1b1b1b" stroke-width="0.4" vector-effect="non-scaling-stroke"/>
<text x="826.08" y="507.20" font-size="12" fill="#1b1b1b" stroke="#1b1b1b" stroke-width="0.4">2</text>
<text x="976.95" y="507.90" font-size="12" fill="#1b1b1b" stroke="#1b1b1b" stroke-width="0.4">23</text>
<text x="18.78" y="534.55" font-size="12" fill="#1b1b1b" stroke="#1b1b1b" stroke-width="0.4" textLength="68.78" lengthAdjust="spacingAndGlyphs">LAS VEGAS</text>
<text x="132.20" y="534.55" font-size="12" fill="#1b1b1b" stroke="#1b1b1b" stroke-width="0.4" textLength="16.65" lengthAdjust="spacingAndGlyphs">NV</text>
<text x="171.90" y="534.55" font-size="12" fill="#1b1b1b" stroke="#1b1b1b" stroke-width="0.4" textLength="32.65" lengthAdjust="spacingAndGlyphs">89 45</text>
<path d="M763 0H583V1098Q518 1038 412 979Q306 920 222 890V1057Q373 1125 486 1221Q599 1318 646 1409H763Z" transform="translate(184.96,534.55) scale(0.005732,-0.005859)" fill="#1b1b1b" stroke="#1b1b1b" stroke-width="0.4" vector-effect="non-scaling-stroke"/>
<text x="233.12" y="525.95" font-size="12" fill="#1b1b1b" stroke="#1b1b1b" stroke-width="0.4" textLength="59.84" lengthAdjust="spacingAndGlyphs">PHYSICIAN</text>
<text x="234.05" y="542.25" font-size="12" fill="#1b1b1b" stroke="#1b1b1b" stroke-width="0.4" textLength="63.58" lengthAdjust="spacingAndGlyphs">ASSISTANT</text>
<text x="356.45" y="534.55" font-size="12" fill="#1b1b1b" stroke="#1b1b1b" stroke-width="0.4" textLength="7.41" lengthAdjust="spacingAndGlyphs">N</text>
<text x="381.59" y="534.55" font-size="12" fill="#1b1b1b" stroke="#1b1b1b" stroke-width="0.4" textLength="47.38" lengthAdjust="spacingAndGlyphs">EXALGO</text>
<text x="553.40" y="541.70" font-size="12" fill="#1b1b1b" stroke="#1b1b1b" stroke-width="0.4"> 0</text>
<path d="M763 0H583V1098Q518 1038 412 979Q306 920 222 890V1057Q373 1125 486 1221Q599 1318 646 1409H763Z" transform="translate(553.40,541.70) scale(0.005859,-0.005859)" fill="#1b1b1b" stroke="#1b1b1b" stroke-width="0.4" vector-effect="non-scaling-stroke"/>
<text x="590.08" y="541.70" font-size="12" fill="#1b1b1b" stroke="#1b1b1b" stroke-width="0.4">2</text>
<path d="M763 0H583V1098Q518 1038 412 979Q306 920 222 890V1057Q373 1125 486 1221Q599 1318 646 1409H763Z" transform="translate(620.93,541.70) scale(0.005859,-0.005859)" fill="#1b1b1b" stroke="#1b1b1b" stroke-width="0.4" vector-effect="non-scaling-stroke"/>
<path d="M763 0H583V1098Q518 1038 412 979Q306 920 222 890V1057Q373 1125 486 1221Q599 1318 646 1409H763Z" transform="translate(754.08,541.70) scale(0.005859,-0.005859)" fill="#1b1b1b" stroke="#1b1b1b" stroke-width="0.4" vector-effect="non-scaling-stroke"/>
<path d="M763 0H583V1098Q518 1038 412 979Q306 920 222 890V1057Q373 1125 486 1221Q599 1318 646 1409H763Z" transform="translate(826.08,541.70) scale(0.005859,-0.005859)" fill="#1b1b1b" stroke="#1b1b1b" stroke-width="0.4" vector-effect="non-scaling-stroke"/>
<text x="976.95" y="542.40" font-size="12" fill="#1b1b1b" stroke="#1b1b1b" stroke-width="0.4"> 5</text>
<path d="M763 0H583V1098Q518 1038 412 979Q306 920 222 890V1057Q373 1125 486 1221Q599 1318 646 1409H763Z" transform="translate(976.95,542.40) scale(0.005859,-0.005859)" fill="#1b1b1b" stroke="#1b1b1b" stroke-width="0.4" vector-effect="non-scaling-stroke"/>
<rect x="110.9" y="148.5" width="17.6" height="17" fill="#eff1f4" stroke="#858585" stroke-width="1.1"/>
<path d="M116.0 155 L124.0 155 L120.0 160 Z" fill="#3c3c3c"/>
<rect x="149.6" y="148.5" width="17.6" height="17" fill="#eff1f4" stroke="#858585" stroke-width="1.1"/>
<path d="M154.7 155 L162.7 155 L158.7 160 Z" fill="#3c3c3c"/>
<rect x="211.75" y="148.5" width="17.6" height="17" fill="#eff1f4" stroke="#858585" stroke-width="1.1"/>
<path d="M216.85 155 L224.85 155 L220.85 160 Z" fill="#3c3c3c"/>
<rect x="335.0" y="148.5" width="17.6" height="17" fill="#eff1f4" stroke="#858585" stroke-width="1.1"/>
<path d="M340.1 155 L348.1 155 L344.1 160 Z" fill="#3c3c3c"/>
<rect x="360.25" y="148.5" width="17.6" height="17" fill="#eff1f4" stroke="#858585" stroke-width="1.1"/>
<path d="M365.35 155 L373.35 155 L369.35 160 Z" fill="#3c3c3c"/>
<rect x="421.5" y="148.5" width="17.6" height="17" fill="#eff1f4" stroke="#858585" stroke-width="1.1"/>
<path d="M425.0 158.6 L430.20000000000005 158.6 L427.6 161.8 Z" fill="#3c3c3c"/>
<path d="M428.40000000000003 152.2 L437.8 152.2 L437.8 153.6 L435.0 156.6 L435.0 160.6 L432.20000000000005 160.6 L432.20000000000005 156.6 L428.40000000000003 153.6 Z" fill="#333"/>
<rect x="449.25" y="148.5" width="17.6" height="17" fill="#eff1f4" stroke="#858585" stroke-width="1.1"/>
<path d="M454.35 155 L462.35 155 L458.35 160 Z" fill="#3c3c3c"/>
<rect x="485.0" y="148.5" width="17.6" height="17" fill="#eff1f4" stroke="#858585" stroke-width="1.1"/>
<path d="M490.1 155 L498.1 155 L494.1 160 Z" fill="#3c3c3c"/>
<rect x="514.6" y="148.5" width="17.6" height="17" fill="#eff1f4" stroke="#858585" stroke-width="1.1"/>
<path d="M519.7 155 L527.7 155 L523.7 160 Z" fill="#3c3c3c"/>
<rect x="550.25" y="148.5" width="17.6" height="17" fill="#eff1f4" stroke="#858585" stroke-width="1.1"/>
<path d="M555.35 155 L563.35 155 L559.35 160 Z" fill="#3c3c3c"/>
<rect x="580.25" y="148.5" width="17.6" height="17" fill="#eff1f4" stroke="#858585" stroke-width="1.1"/>
<path d="M585.35 155 L593.35 155 L589.35 160 Z" fill="#3c3c3c"/>
<rect x="611.1" y="148.5" width="17.6" height="17" fill="#eff1f4" stroke="#858585" stroke-width="1.1"/>
<path d="M616.2 155 L624.2 155 L620.2 160 Z" fill="#3c3c3c"/>
<rect x="645.5" y="148.5" width="17.6" height="17" fill="#eff1f4" stroke="#858585" stroke-width="1.1"/>
<path d="M650.6 155 L658.6 155 L654.6 160 Z" fill="#3c3c3c"/>
<rect x="682.1" y="148.5" width="17.6" height="17" fill="#eff1f4" stroke="#858585" stroke-width="1.1"/>
<path d="M687.2 155 L695.2 155 L691.2 160 Z" fill="#3c3c3c"/>
<rect x="714.0" y="148.5" width="17.6" height="17" fill="#eff1f4" stroke="#858585" stroke-width="1.1"/>
<path d="M719.1 155 L727.1 155 L723.1 160 Z" fill="#3c3c3c"/>
<rect x="744.25" y="148.5" width="17.6" height="17" fill="#eff1f4" stroke="#858585" stroke-width="1.1"/>
<path d="M749.35 155 L757.35 155 L753.35 160 Z" fill="#3c3c3c"/>
<rect x="779.6" y="148.5" width="17.6" height="17" fill="#eff1f4" stroke="#858585" stroke-width="1.1"/>
<path d="M784.7 155 L792.7 155 L788.7 160 Z" fill="#3c3c3c"/>
<rect x="816.25" y="148.5" width="17.6" height="17" fill="#eff1f4" stroke="#858585" stroke-width="1.1"/>
<path d="M821.35 155 L829.35 155 L825.35 160 Z" fill="#3c3c3c"/>
<rect x="857.3" y="148.5" width="17.6" height="17" fill="#eff1f4" stroke="#858585" stroke-width="1.1"/>
<path d="M861.6999999999999 158.8 L866.4 158.8 L864.05 161.8 Z" fill="#3c3c3c"/>
<path d="M869.8 152 L869.8 159" stroke="#333" stroke-width="1.2"/>
<path d="M867.6 158.2 L872.0 158.2 L869.8 161 Z" fill="#333"/>
<rect x="974.9" y="148.5" width="17.6" height="17" fill="#eff1f4" stroke="#858585" stroke-width="1.1"/>
<path d="M980 155 L988 155 L984 160 Z" fill="#3c3c3c"/>
</svg>
</body></html>
